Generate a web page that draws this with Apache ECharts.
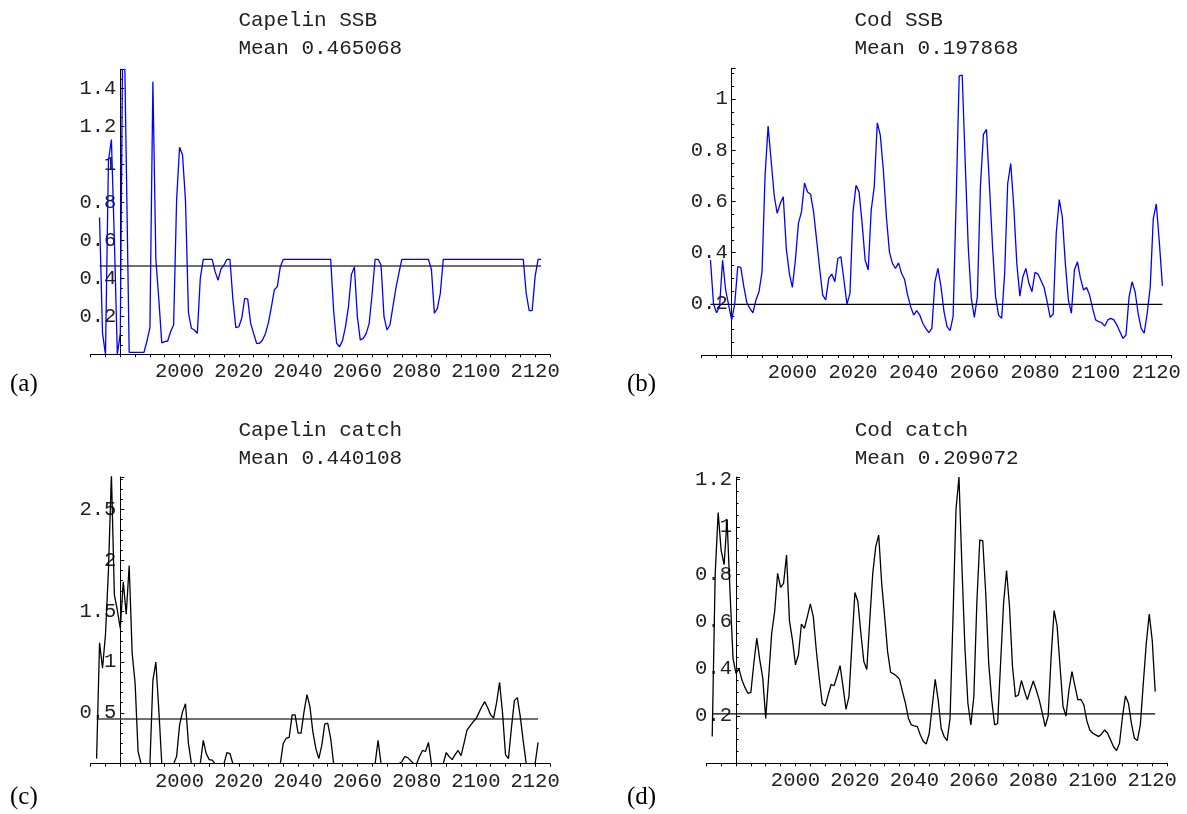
<!DOCTYPE html>
<html><head><meta charset="utf-8">
<script src="https://cdn.jsdelivr.net/npm/echarts@6/dist/echarts.min.js"></script>
<style>html,body{margin:0;padding:0;background:#fff}#c{width:1187px;height:814px}</style>
</head><body><div id="c"></div>
<script>
// ---------------- DATA ----------------
const ssbYears = [
  1973,1974,1975,1976,1977,1978,1979,
  1980,1981,1982,1983,1984,1985,1986,1987,1988,1989,
  1990,1991,1992,1993,1994,1995,1996,1997,1998,1999,
  2000,2001,2002,2003,2004,2005,2006,2007,2008,2009,
  2010,2011,2012,2013,2014,2015,2016,2017,2018,2019,
  2020,2021,2022,2023,2024,2025,2026,2027,2028,2029,
  2030,2031,2032,2033,2034,2035,2036,2037,2038,2039,
  2040,2041,2042,2043,2044,2045,2046,2047,2048,2049,
  2050,2051,2052,2053,2054,2055,2056,2057,2058,2059,
  2060,2061,2062,2063,2064,2065,2066,2067,2068,2069,
  2070,2071,2072,2073,2074,2075,2076,2077,2078,2079,
  2080,2081,2082,2083,2084,2085,2086,2087,2088,2089,
  2090,2091,2092,2093,2094,2095,2096,2097,2098,2099,
  2100,2101,2102,2103,2104,2105,2106,2107,2108,2109,
  2110,2111,2112,2113,2114,2115,2116,2117,2118,2119,
  2120,2121,2122
];
const catchYears = [
  1972,1973,1974,1975,1976,1977,1978,1979,
  1980,1981,1982,1983,1984,1985,1986,1987,1988,1989,
  1990,1991,1992,1993,1994,1995,1996,1997,1998,1999,
  2000,2001,2002,2003,2004,2005,2006,2007,2008,2009,
  2010,2011,2012,2013,2014,2015,2016,2017,2018,2019,
  2020,2021,2022,2023,2024,2025,2026,2027,2028,2029,
  2030,2031,2032,2033,2034,2035,2036,2037,2038,2039,
  2040,2041,2042,2043,2044,2045,2046,2047,2048,2049,
  2050,2051,2052,2053,2054,2055,2056,2057,2058,2059,
  2060,2061,2062,2063,2064,2065,2066,2067,2068,2069,
  2070,2071,2072,2073,2074,2075,2076,2077,2078,2079,
  2080,2081,2082,2083,2084,2085,2086,2087,2088,2089,
  2090,2091,2092,2093,2094,2095,2096,2097,2098,2099,
  2100,2101,2102,2103,2104,2105,2106,2107,2108,2109,
  2110,2111,2112,2113,2114,2115,2116,2117,2118,2119,
  2120,2121
];
const capelinSSB = [
  0.72,0.11,0.00,1.02,1.13,0.60,0.00,
  0.11,2.05,1.03,0.01,0.01,0.01,0.01,0.01,0.01,0.07,
  0.14,1.435,0.50,0.29,0.06,0.067,0.07,0.12,0.155,0.81,
  1.09,1.05,0.81,0.22,0.137,0.128,0.11,0.40,0.50,0.50,
  0.50,0.50,0.435,0.39,0.45,0.47,0.50,0.50,0.29,0.14,
  0.145,0.19,0.295,0.29,0.163,0.11,0.058,0.058,0.075,0.11,
  0.167,0.25,0.34,0.356,0.46,0.50,0.50,0.50,0.50,0.50,
  0.50,0.50,0.50,0.50,0.50,0.50,0.50,0.50,0.50,0.50,
  0.50,0.50,0.23,0.058,0.04,0.072,0.146,0.25,0.42,0.46,
  0.20,0.075,0.084,0.11,0.163,0.32,0.50,0.50,0.47,0.198,
  0.128,0.154,0.25,0.347,0.426,0.50,0.50,0.50,0.50,0.50,
  0.50,0.50,0.50,0.50,0.50,0.447,0.216,0.24,0.32,0.50,
  0.50,0.50,0.50,0.50,0.50,0.50,0.50,0.50,0.50,0.50,
  0.50,0.50,0.50,0.50,0.50,0.50,0.50,0.50,0.50,0.50,
  0.50,0.50,0.50,0.50,0.50,0.50,0.50,0.32,0.23,0.23,
  0.41,0.50,0.50
];
const codSSB = [
  0.371,0.20,0.165,0.19,0.37,0.254,0.195,
  0.137,0.20,0.345,0.342,0.267,0.204,0.182,0.165,0.215,0.247,
  0.325,0.70,0.894,0.76,0.624,0.553,0.592,0.618,0.416,0.319,
  0.264,0.371,0.514,0.559,0.672,0.637,0.628,0.559,0.449,0.338,
  0.234,0.215,0.299,0.316,0.286,0.377,0.384,0.293,0.199,0.241,
  0.559,0.663,0.637,0.514,0.371,0.332,0.566,0.657,0.907,0.859,
  0.722,0.54,0.403,0.358,0.338,0.36,0.319,0.295,0.234,0.189,
  0.156,0.173,0.156,0.124,0.104,0.087,0.104,0.286,0.338,0.267,
  0.169,0.111,0.095,0.15,0.60,1.09,1.093,0.75,0.42,0.221,
  0.147,0.228,0.657,0.862,0.881,0.657,0.423,0.228,0.156,0.143,
  0.319,0.67,0.748,0.579,0.358,0.23,0.306,0.338,0.28,0.247,
  0.323,0.316,0.29,0.264,0.208,0.147,0.16,0.475,0.607,0.54,
  0.358,0.215,0.163,0.332,0.364,0.299,0.254,0.264,0.234,0.182,
  0.137,0.13,0.126,0.113,0.137,0.143,0.137,0.117,0.091,0.065,
  0.078,0.225,0.286,0.247,0.163,0.104,0.085,0.163,0.267,0.533,
  0.59,0.44,0.27
];
const capelinCatch = [
  0.05,1.19,0.94,1.27,1.90,2.85,1.66,1.51,
  1.33,1.79,1.47,1.95,1.09,0.79,0.12,0.00,0.00,0.00,
  0.00,0.82,1.00,0.53,0.00,0.00,0.00,0.00,0.00,0.07,
  0.38,0.51,0.59,0.20,0.00,0.00,0.00,0.00,0.23,0.10,
  0.04,0.035,0.00,0.00,0.00,0.00,0.11,0.10,0.00,0.00,
  0.00,0.00,0.00,0.00,0.00,0.00,0.00,0.00,0.00,0.00,
  0.00,0.00,0.00,0.00,0.00,0.20,0.25,0.26,0.48,0.48,
  0.30,0.30,0.51,0.68,0.56,0.31,0.15,0.05,0.18,0.39,
  0.40,0.25,0.00,0.00,0.00,0.00,0.00,0.00,0.00,0.00,
  0.00,0.00,0.00,0.00,0.00,0.00,0.00,0.23,0.00,0.00,
  0.00,0.00,0.00,0.00,0.00,0.02,0.07,0.06,0.03,0.00,
  0.00,0.07,0.13,0.12,0.21,0.00,0.00,0.00,0.00,0.00,
  0.11,0.07,0.04,0.09,0.13,0.08,0.20,0.33,0.37,0.41,
  0.44,0.50,0.56,0.61,0.55,0.48,0.45,0.60,0.80,0.50,
  0.09,0.05,0.35,0.62,0.65,0.46,0.22,0.00,0.00,0.00,
  0.00,0.21
];
const codCatch = [
  0.113,0.80,1.06,0.90,0.84,1.03,0.72,0.444,
  0.38,0.40,0.352,0.321,0.296,0.30,0.423,0.529,0.437,0.36,
  0.19,0.366,0.55,0.641,0.803,0.744,0.761,0.881,0.60,0.521,
  0.416,0.458,0.589,0.571,0.62,0.674,0.62,0.479,0.36,0.254,
  0.242,0.289,0.334,0.328,0.369,0.413,0.324,0.228,0.282,0.507,
  0.722,0.684,0.55,0.43,0.397,0.606,0.803,0.916,0.965,0.761,
  0.62,0.472,0.385,0.378,0.369,0.355,0.303,0.254,0.19,0.162,
  0.158,0.155,0.12,0.092,0.082,0.127,0.24,0.355,0.268,0.148,
  0.113,0.096,0.19,0.62,1.074,1.21,0.83,0.49,0.254,0.162,
  0.282,0.676,0.944,0.941,0.719,0.423,0.268,0.162,0.169,0.423,
  0.676,0.815,0.662,0.409,0.282,0.289,0.35,0.307,0.268,0.31,
  0.348,0.31,0.268,0.214,0.155,0.20,0.451,0.646,0.581,0.409,
  0.24,0.20,0.31,0.388,0.327,0.268,0.27,0.247,0.18,0.141,
  0.127,0.12,0.113,0.124,0.141,0.127,0.099,0.07,0.054,0.085,
  0.197,0.285,0.254,0.169,0.106,0.096,0.162,0.338,0.507,0.631,
  0.52,0.303
];
const means = { capelinSSB: 0.465068, codSSB: 0.197868, capelinCatch: 0.440108, codCatch: 0.209072 };
const titles = ['Capelin SSB', 'Cod SSB', 'Capelin catch', 'Cod catch'];
const panelLetters = ['(a)', '(b)', '(c)', '(d)'];
const xTickLabels = [2000, 2020, 2040, 2060, 2080, 2100, 2120];
const yTickLabelsA = [0.2, 0.4, 0.6, 0.8, 1, 1.2, 1.4];
const yTickLabelsB = [0.2, 0.4, 0.6, 0.8, 1];
const yTickLabelsC = [0.5, 1, 1.5, 2, 2.5];
const yTickLabelsD = [0.2, 0.4, 0.6, 0.8, 1, 1.2];

// ---------------- LAYOUT / STYLE ----------------
const MONO = "'Liberation Mono', 'Courier New', monospace";
const X_MIN = 1970, X_MAX = 2125, Y_AXIS_AT = 1980;
const panels = [
  { years: ssbYears, values: capelinSSB, mean: means.capelinSSB, title: titles[0], letter: panelLetters[0],
    color: '#0000ff', meanColor: '#404040', meanWidth: 1.6, yMin: 0, yMax: 1.5, yInterval: 0.2, minorSplit: 4,
    yLabels: yTickLabelsA, g: { x1980: 120.3, ppy: 2.963, yZero: 354.3, ppu: 190 }, titleTop: 7, letterPos: [10, 372] },
  { years: ssbYears, values: codSSB, mean: means.codSSB, title: titles[1], letter: panelLetters[1],
    color: '#0000ff', meanColor: '#000000', meanWidth: 1.2, yMin: 0, yMax: 1.12, yInterval: 0.2, minorSplit: 4,
    yLabels: yTickLabelsB, g: { x1980: 731.7, ppy: 3.033, yZero: 355, ppu: 256 }, titleTop: 7, letterPos: [627, 372] },
  { years: catchYears, values: capelinCatch, mean: means.capelinCatch, title: titles[2], letter: panelLetters[2],
    color: '#000000', meanColor: '#404040', meanWidth: 1.6, yMin: 0, yMax: 2.82, yInterval: 0.5, minorSplit: 5,
    yLabels: yTickLabelsC, g: { x1980: 120.3, ppy: 2.963, yZero: 763.7, ppu: 101.67 }, titleTop: 417, letterPos: [10, 785] },
  { years: catchYears, values: codCatch, mean: means.codCatch, title: titles[3], letter: panelLetters[3],
    color: '#000000', meanColor: '#000000', meanWidth: 1.2, yMin: 0, yMax: 1.21, yInterval: 0.2, minorSplit: 4,
    yLabels: yTickLabelsD, g: { x1980: 736, ppy: 2.973, yZero: 763.3, ppu: 236.5 }, titleTop: 417, letterPos: [627, 785] }
];

const measureCtx = document.createElement('canvas').getContext('2d');
const TITLE_SIZE = 21, TICK_SIZE = 20.5;
measureCtx.font = TITLE_SIZE + 'px ' + MONO;

const grid = [], xAxis = [], yAxis = [], series = [], title = [], graphic = [];
panels.forEach((p, i) => {
  const left = p.g.x1980 - (Y_AXIS_AT - X_MIN) * p.g.ppy;
  const width = (X_MAX - X_MIN) * p.g.ppy;
  const top = p.g.yZero - p.yMax * p.g.ppu;
  const height = (p.yMax - p.yMin) * p.g.ppu;
  grid.push({ left, top, width, height, containLabel: false, outerBoundsMode: 'none' });
  xAxis.push({
    type: 'value', gridIndex: i, min: X_MIN, max: X_MAX, interval: 5,
    axisLine: { show: true, onZero: true, lineStyle: { color: '#000', width: 1 } },
    axisTick: { show: true, length: 3, inside: false, lineStyle: { color: '#000' } },
    splitLine: { show: false },
    axisLabel: { show: true, margin: 7, fontFamily: MONO, fontSize: TICK_SIZE, color: '#222',
      hideOverlap: false,
      formatter: v => xTickLabels.includes(Math.round(v)) && Math.abs(v - Math.round(v)) < 1e-6 ? String(Math.round(v)) : '' }
  });
  const labs = p.yLabels;
  yAxis.push({
    type: 'value', gridIndex: i, min: p.yMin, max: p.yMax, interval: p.yInterval,
    position: 'left', offset: -(Y_AXIS_AT - X_MIN) * p.g.ppy,
    axisLine: { show: true, onZero: false, lineStyle: { color: '#000', width: 1 } },
    axisTick: { show: true, inside: true, length: 4, lineStyle: { color: '#000' } },
    minorTick: { show: true, splitNumber: p.minorSplit, length: 2.5, lineStyle: { color: '#000' } },
    splitLine: { show: false },
    axisLabel: { show: true, margin: 4, fontFamily: MONO, fontSize: TICK_SIZE, color: '#222',
      hideOverlap: false,
      formatter: v => {
        const m = labs.find(t => Math.abs(t - v) < 1e-6);
        return m === undefined ? '' : String(m);
      } }
  });
  series.push({
    type: 'line', xAxisIndex: i, yAxisIndex: i, clip: true, silent: true, animation: false,
    symbol: 'none', showSymbol: false, z: 3,
    lineStyle: { color: p.color, width: 1.3 },
    data: p.years.map((y, k) => [y, p.values[k]])
  });
  series.push({
    type: 'line', xAxisIndex: i, yAxisIndex: i, clip: true, silent: true, animation: false,
    symbol: 'none', showSymbol: false, z: 2,
    lineStyle: { color: p.meanColor, width: p.meanWidth },
    data: [[p.years[0], p.mean], [p.years[p.years.length - 1], p.mean]]
  });
  const lines = [p.title, 'Mean ' + p.mean.toFixed(6)];
  const w = Math.max(...lines.map(l => measureCtx.measureText(l).width));
  title.push({
    text: lines.join('\n'), left: left + width / 2 - w / 2, top: p.titleTop, padding: 0,
    textStyle: { fontFamily: MONO, fontSize: TITLE_SIZE, fontWeight: 'normal', color: '#222', lineHeight: 27.5 }
  });
  graphic.push({
    type: 'text', left: p.letterPos[0], top: p.letterPos[1],
    style: { text: p.letter, font: "25px 'Liberation Serif', 'Times New Roman', serif", fill: '#000' }
  });
});

const chart = echarts.init(document.getElementById('c'), null, { renderer: 'canvas' });
chart.setOption({ animation: false, backgroundColor: '#fff', grid, xAxis, yAxis, series, title, graphic });
</script></body></html>
